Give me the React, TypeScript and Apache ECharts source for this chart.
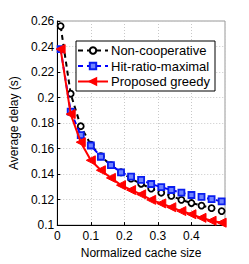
import React, { useEffect, useRef } from "react";
import * as echarts from "echarts";

const cacheSizes = [0.01, 0.04, 0.07, 0.1, 0.13, 0.16, 0.19, 0.22, 0.25, 0.28, 0.31, 0.34, 0.37, 0.4, 0.43, 0.46, 0.49];
const nonCooperative = [0.256, 0.203, 0.1775, 0.163, 0.154, 0.147, 0.1414, 0.1364, 0.1324, 0.1286, 0.1254, 0.1229, 0.1198, 0.1173, 0.1153, 0.1133, 0.111];
const hitRatioMaximal = [0.238, 0.189, 0.1705, 0.1624, 0.1536, 0.147, 0.1414, 0.138, 0.1354, 0.1322, 0.1297, 0.1275, 0.1254, 0.1236, 0.1221, 0.1203, 0.1186];
const proposedGreedy = [0.238, 0.187, 0.165, 0.1508, 0.143, 0.137, 0.1313, 0.1275, 0.1241, 0.1198, 0.117, 0.114, 0.111, 0.1085, 0.1057, 0.1034, 0.1019];
const seriesNames = ["Non-cooperative", "Hit-ratio-maximal", "Proposed greedy"];
const xAxisName = "Normalized cache size";
const yAxisName = "Average delay (s)";

const FONT = "Liberation Sans, Arial, Helvetica, sans-serif";

function pairs(ys: number[]) {
  return ys.map((y, i) => [cacheSizes[i], y]);
}

export default function App() {
  const ref = useRef<HTMLDivElement>(null);
  useEffect(() => {
    if (!ref.current) return;
    const chart = echarts.init(ref.current, null, { renderer: "svg" });
    chart.setOption({
      animation: false,
      backgroundColor: "#fff",
      textStyle: { fontFamily: FONT },
      grid: {
        left: 44,
        right: 24,
        top: 21,
        bottom: 30.5,
        show: true,
        borderColor: "#999",
        borderWidth: 1,
        backgroundColor: "transparent",
      },
      legend: {
        left: 76,
        top: 41,
        orient: "vertical",
        itemWidth: 30,
        itemHeight: 8,
        itemGap: 2.5,
        padding: [3, 5, 3, 1],
        borderColor: "#000",
        borderWidth: 1,
        backgroundColor: "#fff",
        textStyle: { fontFamily: FONT, fontSize: 13, color: "#000", padding: [0, 0, 0, -2] },
        data: seriesNames,
      },
      xAxis: {
        type: "value",
        min: 0,
        max: 0.5,
        interval: 0.1,
        name: xAxisName,
        nameLocation: "middle",
        nameGap: 16,
        nameTextStyle: { fontFamily: FONT, fontSize: 12, color: "#000" },
        axisLine: { show: true, onZero: false, lineStyle: { color: "#000", width: 1 } },
        axisTick: { show: true, inside: true, length: 3, lineStyle: { color: "#000" } },
        axisLabel: {
          margin: 5,
          fontFamily: FONT,
          fontSize: 12,
          color: "#000",
          formatter: (v: number) => (v >= 0.5 ? "" : String(Math.round(v * 10) / 10)),
        },
        splitLine: { show: true, lineStyle: { color: "#c8c8c8", type: [1, 2], width: 1 } },
      },
      yAxis: {
        type: "value",
        min: 0.1,
        max: 0.26,
        interval: 0.02,
        name: yAxisName,
        nameLocation: "middle",
        nameGap: 29,
        nameTextStyle: { fontFamily: FONT, fontSize: 12, color: "#000" },
        axisLine: { show: true, onZero: false, lineStyle: { color: "#000", width: 1 } },
        axisTick: { show: true, inside: true, length: 3, lineStyle: { color: "#000" } },
        axisLabel: {
          margin: 3,
          fontFamily: FONT,
          fontSize: 12,
          color: "#000",
          formatter: (v: number) => String(Math.round(v * 100) / 100),
        },
        splitLine: { show: true, lineStyle: { color: "#c8c8c8", type: [1, 2], width: 1 } },
      },
      series: [
        {
          name: seriesNames[0],
          type: "line",
          data: pairs(nonCooperative),
          symbol: "circle",
          symbolSize: 6,
          lineStyle: { color: "#000", width: 2, type: [5, 4] },
          itemStyle: { color: "#fff", borderColor: "#000", borderWidth: 1.8 },
          z: 3,
        },
        {
          name: seriesNames[1],
          type: "line",
          data: pairs(hitRatioMaximal),
          symbol: "rect",
          symbolSize: 6,
          lineStyle: { color: "#0000ff", width: 2, type: [5, 4] },
          itemStyle: { color: "#6f82ff", borderColor: "#0a1ef0", borderWidth: 1.8 },
          z: 4,
        },
        {
          name: seriesNames[2],
          type: "line",
          data: pairs(proposedGreedy),
          symbol: "triangle",
          symbolRotate: 90,
          symbolSize: 9,
          lineStyle: { color: "#ff0000", width: 2 },
          itemStyle: { color: "#ff0000", borderColor: "#ff0000", borderWidth: 1 },
          z: 5,
        },
      ],
    });
    return () => chart.dispose();
  }, []);
  return <div ref={ref} style={{ width: 249, height: 264, position: "absolute", left: 0, top: 0 }} />;
}
